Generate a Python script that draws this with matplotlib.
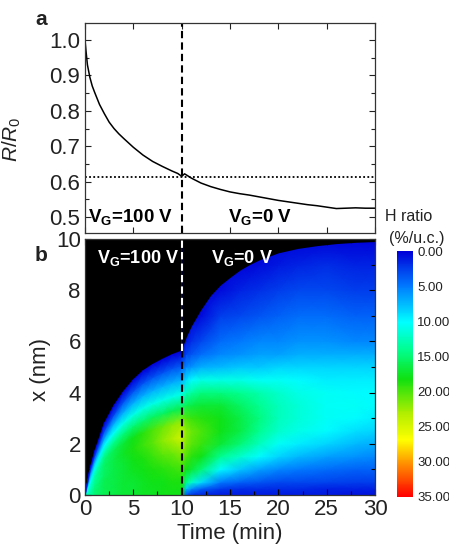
import numpy as np
import matplotlib
matplotlib.use("Agg")
import matplotlib.pyplot as plt
from matplotlib.colors import LinearSegmentedColormap, Normalize
from matplotlib.ticker import MultipleLocator

plt.rcParams['font.family'] = ['Liberation Sans', 'DejaVu Sans']
plt.rcParams['mathtext.fontset'] = 'custom'
plt.rcParams['mathtext.rm'] = 'Liberation Sans'
plt.rcParams['mathtext.it'] = 'Liberation Sans:italic'
plt.rcParams['mathtext.bf'] = 'Liberation Sans:bold'

# ---- panel a: normalised resistance vs time ----
time_min = [0, 0.1, 0.25, 0.5, 0.75, 1.0, 1.5, 2.0, 2.5, 3.0, 3.5, 4.0, 5.0, 6.0,
            7.0, 8.0, 9.0, 9.6, 10.0, 10.3, 10.6, 11.0, 12.0, 13.0, 14.0, 15.0,
            16.0, 17.0, 18.0, 19.0, 20.0, 21.0, 22.0, 23.0, 24.0, 25.0, 26.0,
            27.0, 28.0, 29.0, 30.0]
r_ratio = [1.0, 0.97, 0.93, 0.895, 0.87, 0.852, 0.818, 0.792, 0.768, 0.75, 0.735,
           0.722, 0.697, 0.675, 0.657, 0.643, 0.63, 0.623, 0.615, 0.622, 0.617,
           0.61, 0.596, 0.586, 0.578, 0.571, 0.566, 0.562, 0.557, 0.552, 0.547,
           0.543, 0.539, 0.535, 0.532, 0.528, 0.524, 0.525, 0.526, 0.525, 0.525]
r_level = 0.612
switch_time = 10

# ---- panel b: hydrogen profile ----
# gate on (0-10 min): values on fractions of the diffusion front depth
t_on = [0, 0.5, 1, 2, 3, 4, 5, 6, 7, 8, 9, 10]
front_on = [0, 1.0, 1.7, 2.8, 3.5, 4.05, 4.5, 4.85, 5.1, 5.3, 5.48, 5.62]
depth_frac = [0, 0.1, 0.2, 0.3, 0.4, 0.5, 0.6, 0.7, 0.8, 0.9, 1.0]
h_on = [  # one row per time in t_on, one value per depth fraction
    [13, 12.5, 12, 11.5, 11, 10, 9, 7.5, 5.5, 3, 0],
    [13.5, 13, 12.5, 12, 11.5, 10.5, 9, 7.5, 5.5, 3, 0],
    [15, 15, 14.5, 14, 13.5, 12.5, 11, 9, 6, 3, 0],
    [16, 16, 16, 15.5, 15.5, 15, 13, 10, 6.5, 3, 0],
    [16.5, 16.5, 16.5, 16.5, 16.5, 16, 14, 10.5, 7, 3, 0],
    [17, 17, 17, 17, 17.5, 17, 14.5, 11, 7, 3.5, 0],
    [17, 17, 17.5, 18, 18.5, 18, 15, 11, 7, 3.5, 0],
    [17.5, 17.5, 18, 18.5, 19.5, 19, 15, 11, 7, 3.5, 0],
    [17.5, 18, 18.5, 19.5, 20.5, 20, 15.5, 11, 7, 3.5, 0],
    [18, 18, 19, 20.5, 22, 21, 15.5, 11, 7, 3.5, 0],
    [18, 18.5, 19.5, 21, 23, 22, 16, 11, 7, 3.5, 0],
    [18, 18.5, 20, 22, 24.5, 22.5, 16, 11, 7, 3.5, 0],
]

# gate off (10-30 min): values on absolute depth
t_off = [10, 10.5, 11, 12, 14, 16, 18, 20, 22, 25, 28, 30]
depth_nm = [0, 0.25, 0.5, 1, 1.5, 2, 2.5, 3, 3.5, 4, 4.5, 5, 5.5, 6, 7, 8, 9, 10]
h_off = [  # one row per time in t_off, one value per depth in depth_nm
    [18, 18.3, 18.5, 19.5, 21, 23, 24, 21, 15, 11, 7, 4, 1, 0, 0, 0, 0, 0],
    [3, 8, 14, 18, 20, 21.5, 22, 20, 16, 12.5, 9, 5.5, 3, 1, 0, 0, 0, 0],
    [2, 6, 12, 17, 19, 20.5, 21, 19.5, 16.5, 13.5, 10, 6, 3.5, 2, 0, 0, 0, 0],
    [1.5, 4, 9, 15, 18, 19.5, 20, 19, 17, 14.5, 11, 7, 4.5, 3, 0.5, 0, 0, 0],
    [1, 2.5, 5, 10, 14, 17, 18, 18, 17, 14.5, 11, 7.5, 5.5, 4.5, 2.5, 0.5, 0, 0],
    [1, 2, 4, 8, 12, 15, 16.5, 16.5, 15.5, 14, 11, 8, 6, 5, 3, 1.5, 0, 0],
    [1, 2, 3.5, 6.5, 10, 12.5, 14, 14.5, 14, 13, 10.5, 8, 6.5, 5.5, 3.5, 2, 0.5, 0],
    [1, 1.8, 3, 5.5, 8.5, 10.5, 12, 12.5, 12.5, 12, 10.5, 8.5, 6.5, 5.5, 4, 2.5, 1, 0],
    [1, 1.8, 3, 5, 7.5, 9.5, 11, 11.5, 11.5, 11, 10, 8.5, 7, 6, 4.5, 3, 1.5, 0],
    [1, 1.5, 2.8, 4.5, 6.5, 8.5, 10, 10.5, 10.5, 10.5, 9.5, 8.5, 7, 6, 4.5, 3, 1.8, 0],
    [0.8, 1.5, 2.5, 4, 6, 7.5, 9, 10, 10.5, 10, 9.5, 8.5, 7, 5.5, 4, 2.5, 1.5, 0],
    [0.8, 1.5, 2.5, 4, 5.5, 7, 8.5, 9.5, 10, 10, 9.5, 8.5, 7, 5.5, 4, 2.5, 1.5, 0],
]
t_front_off = [10, 10.5, 11, 12, 13, 14, 15, 16, 17, 18, 20, 22, 24, 26, 28, 30]
front_off = [5.7, 6.2, 6.6, 7.25, 7.8, 8.2, 8.5, 8.78, 9.0, 9.18, 9.46, 9.63,
             9.74, 9.82, 9.87, 9.9]

cbar_ticks = [0, 5, 10, 15, 20, 25, 30, 35]

h_cmap = LinearSegmentedColormap.from_list(
    "h_ratio",
    [(0.0, "#0000d8"), (0.14, "#0078ff"), (0.29, "#00ffff"), (0.40, "#00ff90"),
     (0.52, "#10e010"), (0.66, "#b0ee00"), (0.77, "#ffff00"), (0.87, "#ff8c00"),
     (1.0, "#ff0000")])
h_norm = Normalize(0, 35)

txt = "#222222"
fig = plt.figure(figsize=(4.49, 5.50), dpi=100)

# ---------- panel a ----------
ax1 = fig.add_axes([0.1893, 0.5764, 0.6459, 0.3818])
ax1.plot(time_min, r_ratio, color="black", lw=1.1)
ax1.axhline(r_level, color="black", lw=1.3, ls=(0, (1, 1.3)))
ax1.axvline(switch_time, color="black", lw=1.5, ls=(0, (3.5, 2)))
ax1.set_xlim(0, 30)
ax1.set_ylim(0.455, 1.048)
ax1.xaxis.set_major_locator(MultipleLocator(5))
ax1.yaxis.set_major_locator(MultipleLocator(0.1))
ax1.yaxis.set_minor_locator(MultipleLocator(0.05))
ax1.tick_params(which="both", direction="in", top=True, right=True, colors=txt,
                labelsize=16, width=0.8)
ax1.tick_params(which="major", length=4)
ax1.tick_params(which="minor", length=3)
ax1.tick_params(axis="x", labelbottom=False)
ax1.set_yticks([0.5, 0.6, 0.7, 0.8, 0.9, 1.0])
ax1.set_yticklabels(["0.5", "0.6", "0.7", "0.8", "0.9", "1.0"])
ax1.set_ylabel(r"$R$/$R_0$", fontsize=15, color=txt)
ax1.yaxis.set_label_coords(-0.215, 0.445)
ax1.text(0.3, 0.499, r"$\mathbf{V_G}$=100 V", fontsize=13.5, fontweight="bold",
         color="black", va="center", ha="left")
ax1.text(18.1, 0.499, r"$\mathbf{V_G}$=0 V", fontsize=13.5, fontweight="bold",
         color="black", va="center", ha="center")
for s in ax1.spines.values():
    s.set_linewidth(0.9)
    s.set_color("#333333")
fig.text(0.078, 0.965, "a", fontsize=15, fontweight="bold", color=txt,
         ha="left", va="center")

# ---------- panel b ----------
ax2 = fig.add_axes([0.1893, 0.1, 0.6459, 0.4655])
ax2.set_facecolor("black")

T_on = np.tile(np.asarray(t_on, float), (len(depth_frac), 1))
X_on = np.outer(depth_frac, front_on)
C_on = np.asarray(h_on, float).T
ax2.pcolormesh(T_on, X_on, C_on, shading="gouraud", cmap=h_cmap, norm=h_norm)

T_off, X_off = np.meshgrid(t_off, depth_nm)
C_off = np.asarray(h_off, float).T
mesh = ax2.pcolormesh(T_off, X_off, C_off, shading="gouraud", cmap=h_cmap,
                      norm=h_norm)
ax2.fill_between(t_front_off, front_off, 10, color="black", lw=0, zorder=2)

ax2.plot([switch_time, switch_time], [front_on[-1], 10], color="white", lw=1.5,
         ls=(0, (3.5, 2)), zorder=3)
ax2.plot([switch_time, switch_time], [0, front_on[-1]], color="black", lw=1.5,
         ls=(0, (3.5, 2)), zorder=3)

ax2.set_xlim(0, 30)
ax2.set_ylim(0, 10)
ax2.xaxis.set_major_locator(MultipleLocator(5))
ax2.xaxis.set_minor_locator(MultipleLocator(2.5))
ax2.yaxis.set_major_locator(MultipleLocator(2))
ax2.yaxis.set_minor_locator(MultipleLocator(1))
ax2.tick_params(which="both", direction="in", top=True, right=True, colors="black",
                labelcolor=txt, labelsize=16, width=0.8)
ax2.tick_params(which="major", length=4, pad=3)
ax2.tick_params(which="minor", length=3)
ax2.set_xlabel("Time (min)", fontsize=16, color=txt, labelpad=2)
ax2.set_ylabel("x (nm)", fontsize=16, color=txt)
ax2.yaxis.set_label_coords(-0.118, 0.49)
ax2.text(1.2, 9.26, r"$\mathbf{V_G}$=100 V", fontsize=13, fontweight="bold",
         color="white", va="center", ha="left", zorder=4)
ax2.text(16.2, 9.26, r"$\mathbf{V_G}$=0 V", fontsize=13, fontweight="bold",
         color="white", va="center", ha="center", zorder=4)
for s in ax2.spines.values():
    s.set_linewidth(0.9)
    s.set_color("#333333")
fig.text(0.078, 0.536, "b", fontsize=15, fontweight="bold", color=txt,
         ha="left", va="center")

# ---------- colour bar ----------
cax = fig.add_axes([0.884, 0.0964, 0.0356, 0.4472])
cb = fig.colorbar(mesh, cax=cax, ticks=cbar_ticks)
cax.invert_yaxis()
cb.outline.set_visible(False)
cax.tick_params(length=0, labelsize=9.5, colors=txt, pad=3)
cax.set_yticklabels([f"{v:.2f}" for v in cbar_ticks])
fig.text(0.857, 0.606, "H ratio", fontsize=11.5, color=txt, ha="left",
         va="center")
fig.text(0.866, 0.567, "(%/u.c.)", fontsize=11.5, color=txt, ha="left",
         va="center")

fig.savefig("out.png", dpi=100, facecolor="white")
